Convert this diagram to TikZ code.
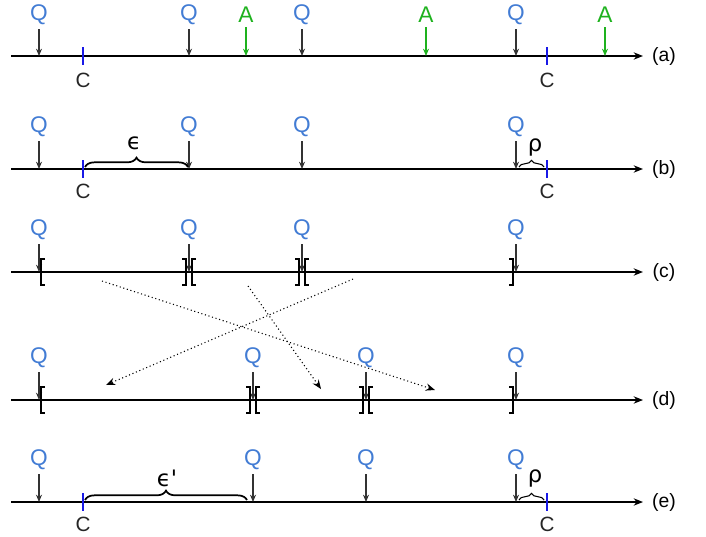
\documentclass[tikz,border=0pt]{standalone}
\usepackage{fontspec}
\setmainfont{Liberation Sans}
\newfontfamily\greekfont{DejaVu Sans}
\usepackage{xcolor}
\usepackage{tikz}
\usetikzlibrary{arrows.meta,decorations.pathreplacing}
\definecolor{qblue}{RGB}{66,124,212}
\definecolor{agreen}{RGB}{30,178,30}
\definecolor{cblue}{RGB}{25,25,230}
\tikzstyle{query} = [text=qblue, font=\fontsize{17}{20}\selectfont, inner sep=1pt]
\tikzstyle{answer} = [text=agreen, font=\fontsize{17}{20}\selectfont, inner sep=1pt]
\tikzstyle{clabel} = [text=black!85, font=\fontsize{15.5}{18}\selectfont, inner sep=1pt]
\tikzstyle{rowlabel} = [font=\fontsize{14.5}{17}\selectfont, inner sep=1pt]
\tikzstyle{greek} = [font=\greekfont\fontsize{17}{20}\selectfont, inner sep=1pt]
\tikzstyle{timeline} = [line width=1.1pt, -{Stealth[length=7pt,width=5.5pt]}]
\tikzstyle{qarrow} = [line width=0.9pt, draw=black!80, shorten <=2pt, -{Stealth[length=5.5pt,width=4.5pt]}]
\tikzstyle{aarrow} = [qarrow, draw=agreen]
\tikzstyle{tick} = [line width=1.2pt, draw=cblue]
\tikzstyle{bracket} = [line width=2pt]
\tikzstyle{move} = [dotted, line width=0.8pt, -{Stealth[length=7pt,width=5.5pt,inset=2.5pt]}]
\tikzstyle{gap} = [line width=1.3pt, decorate, decoration={brace, amplitude=7pt}]
\tikzstyle{smallgap} = [line width=0.8pt, decorate, decoration={brace, amplitude=5pt}]

\begin{document}
\begin{tikzpicture}[x=0.75pt, y=-0.75pt]
    \useasboundingbox (0,0) rectangle (706,536);
    % time lines
    \foreach \r/\y in {a/56, b/169, c/272, d/400, e/502} {
        \coordinate (\r0) at (11,\y);
        \coordinate (\r1) at (643,\y);
        \draw [timeline] (\r0) -- (\r1);
        \node (l\r) [rowlabel] at (664,\y) {(\r)};
    }

    % (a) queries, answers and checkpoints
    \foreach \x [count=\i] in {39,189,302,516} {
        \node (qa\i) [query] at (\x,15) {Q};
        \coordinate (pa\i) at (\x,56);
        \draw [qarrow] (qa\i) -- (pa\i);
    }
    \foreach \x [count=\i] in {246,426,605} {
        \node (aa\i) [answer] at (\x,15) {A};
        \coordinate (ra\i) at (\x,56);
        \draw [aarrow] (aa\i) -- (ra\i);
    }
    \foreach \x [count=\i] in {83,547} {
        \coordinate (cta\i) at (\x,47);
        \coordinate (cba\i) at (\x,65);
        \draw [tick] (cta\i) -- (cba\i);
        \node (ca\i) [clabel] at (\x,80) {C};
    }

    % (b) gaps
    \foreach \x [count=\i] in {39,189,302,516} {
        \node (qb\i) [query] at (\x,127) {Q};
        \coordinate (pb\i) at (\x,169);
        \draw [qarrow] (qb\i) -- (pb\i);
    }
    \foreach \x [count=\i] in {83,547} {
        \coordinate (ctb\i) at (\x,160);
        \coordinate (cbb\i) at (\x,178);
        \draw [tick] (ctb\i) -- (cbb\i);
        \node (cb\i) [clabel] at (\x,191) {C};
    }
    \coordinate (eps0) at (85,167);
    \coordinate (eps1) at (188,167);
    \draw [gap] (eps0) -- (eps1);
    \node (eps) [greek] at (134,143) {ϵ};
    \coordinate (rho0) at (519,167);
    \coordinate (rho1) at (544,167);
    \draw [smallgap] (rho0) -- (rho1);
    \node (rho) [greek] at (535,148) {ρ};

    % (c) intervals
    \foreach \x [count=\i] in {39,189,302,516} {
        \node (qc\i) [query] at (\x,230) {Q};
        \coordinate (pc\i) at (\x,272);
        \draw [qarrow] (qc\i) -- (pc\i);
    }
    \foreach \x in {41,192,305} \draw [bracket] (\x+4,259) -- (\x,259) -- (\x,285) -- (\x+4,285);
    \foreach \x in {186,299,513} \draw [bracket] (\x-4,259) -- (\x,259) -- (\x,285) -- (\x-4,285);

    % (d) shuffled intervals
    \foreach \x [count=\i] in {39,253,366,516} {
        \node (qd\i) [query] at (\x,358) {Q};
        \coordinate (pd\i) at (\x,400);
        \draw [qarrow] (qd\i) -- (pd\i);
    }
    \foreach \x in {41,256,369} \draw [bracket] (\x+4,387) -- (\x,387) -- (\x,413) -- (\x+4,413);
    \foreach \x in {250,363,513} \draw [bracket] (\x-4,387) -- (\x,387) -- (\x,413) -- (\x-4,413);

    % moves from (c) to (d)
    \coordinate (mv1s) at (102,281);
    \coordinate (mv1e) at (435,390);
    \coordinate (mv2s) at (248,286);
    \coordinate (mv2e) at (321,389);
    \coordinate (mv3s) at (353,279);
    \coordinate (mv3e) at (106,385);
    \draw [move] (mv1s) -- (mv1e);
    \draw [move] (mv2s) -- (mv2e);
    \draw [move] (mv3s) -- (mv3e);

    % (e) new gaps
    \foreach \x [count=\i] in {39,253,366,516} {
        \node (qe\i) [query] at (\x,460) {Q};
        \coordinate (pe\i) at (\x,502);
        \draw [qarrow] (qe\i) -- (pe\i);
    }
    \foreach \x [count=\i] in {83,547} {
        \coordinate (cte\i) at (\x,493);
        \coordinate (cbe\i) at (\x,511);
        \draw [tick] (cte\i) -- (cbe\i);
        \node (ce\i) [clabel] at (\x,524) {C};
    }
    \coordinate (epsp0) at (85,500);
    \coordinate (epsp1) at (247,500);
    \draw [gap] (epsp0) -- (epsp1);
    \node (epsp) [greek] at (167,478) {ϵ'};
    \coordinate (rhoe0) at (519,500);
    \coordinate (rhoe1) at (544,500);
    \draw [smallgap] (rhoe0) -- (rhoe1);
    \node (rhoe) [greek] at (535,478) {ρ};
\end{tikzpicture}
\end{document}
